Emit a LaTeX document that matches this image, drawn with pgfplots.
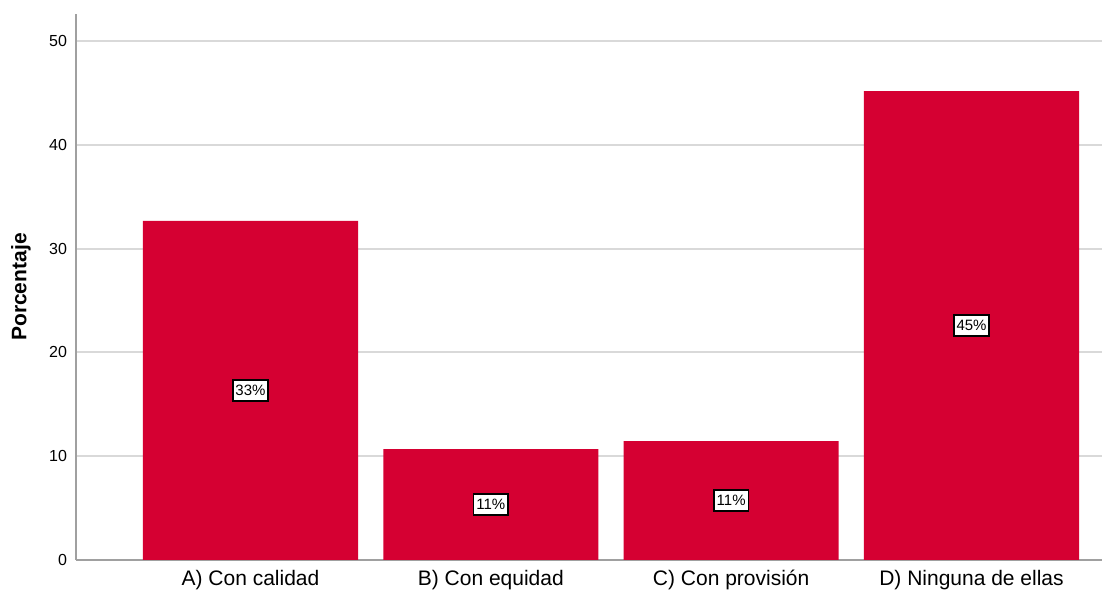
\documentclass[border=0pt]{standalone}
\usepackage{fontspec}
\setmainfont{Liberation Sans}
\usepackage{pgfplots}
\pgfplotsset{compat=1.18}
\definecolor{barred}{RGB}{213,0,50}
\definecolor{gridgray}{RGB}{217,217,217}
\definecolor{axisgray}{RGB}{160,160,160}
\begin{document}
\begin{tikzpicture}
\begin{axis}[
    scale only axis,
    width=513pt, height=273pt,
    xmin=-0.726, xmax=3.543,
    ymin=0, ymax=52.6,
    axis x line*=bottom, axis y line*=left,
    axis line style={axisgray, line width=1pt},
    xtick={0,1,2,3},
    xticklabels={A) Con calidad, B) Con equidad, C) Con provisión, D) Ninguna de ellas},
    ytick={0,10,20,30,40,50},
    major tick length=0pt,
    ymajorgrids,
    grid style={gridgray, line width=1pt},
    tick label style={black},
    yticklabel style={font=\fontsize{8}{9}\selectfont, xshift=-1pt},
    xticklabel style={font=\fontsize{10.5}{12}\selectfont, yshift=-1.5pt},
    /pgf/number format/assume math mode=true,
    ylabel={Porcentaje},
    ylabel style={font=\fontsize{10.5}{12}\selectfont\bfseries, at={(axis description cs:-0.0536,0.5)}, anchor=center},
    clip=false,
]
\addplot[ybar, bar width=0.895, bar shift=0pt, fill=barred, draw=none]
    coordinates {(0,32.66) (1,10.69) (2,11.46) (3,45.18)};
% labels at half height of each bar
\addplot[only marks, mark=none,
    nodes near coords, point meta=explicit symbolic,
    every node near coord/.style={anchor=center, fill=white, draw=black, line width=0.7pt,
        inner xsep=1.3pt, inner ysep=2.6pt, font=\fontsize{7.5}{8}\selectfont}]
    table[meta=lab] {
x y lab
0 16.33 33\%
1 5.35 11\%
2 5.73 11\%
3 22.59 45\%
};
\end{axis}
\pgfresetboundingbox
\path ([xshift=-38pt,yshift=-17pt]current axis.south west) rectangle ([yshift=7pt]current axis.north east);
\end{tikzpicture}
\end{document}
